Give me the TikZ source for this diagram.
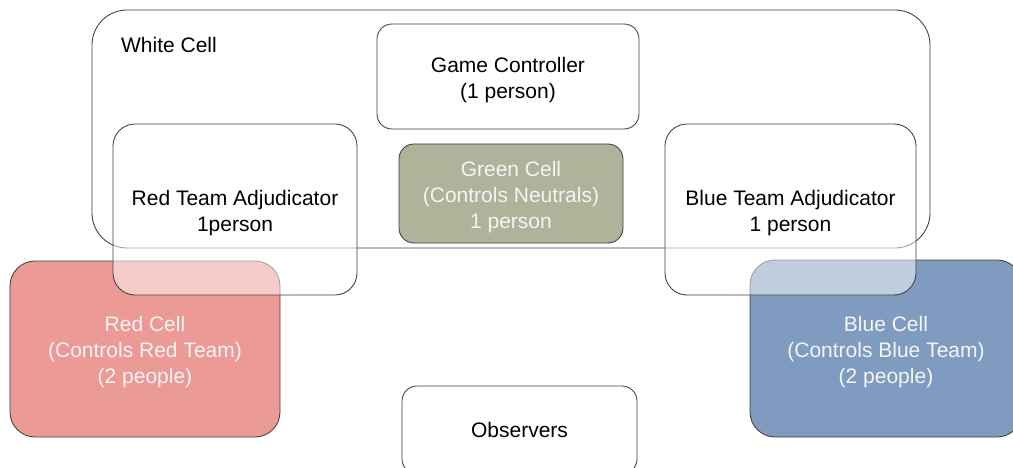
\documentclass[tikz,border=0pt]{standalone}
\usepackage{fontspec}
\setmainfont{Liberation Sans}
\definecolor{bordergray}{HTML}{404040}
\definecolor{redfill}{HTML}{EC9A96}
\definecolor{bluefill}{HTML}{7F9BC0}
\definecolor{greenfill}{HTML}{AEB49A}
\definecolor{paletext}{HTML}{F4F4F4}
\begin{document}
\begin{tikzpicture}[x=1pt,y=-1pt,
  box/.style={draw=bordergray, line width=0.85pt, inner sep=0pt},
  plain/.style={box, fill=white},
  adj/.style={box, fill=white, fill opacity=0.5, rounded corners=22pt},
  txt/.style={inner sep=0pt, align=center, yshift=-3.5pt, font=\fontsize{21}{26}\selectfont},
  pale/.style={txt, text=paletext},
  lbl/.style={inner sep=0pt, font=\fontsize{21}{26}\selectfont}]
\useasboundingbox (0,0) rectangle (1013,468);
\clip (0,0) rectangle (1013,468);
\fill[white] (0,0) rectangle (1013,468);
\node[plain, rounded corners=35pt, minimum width=838pt, minimum height=238pt] (white) at (511,129) {};
\node[lbl] (whitelbl) at (169,45) {White Cell};
\node[plain, rounded corners=15pt, minimum width=262pt, minimum height=105pt] (gc) at (508,76.5) {};
\node[txt] (gct) at (gc.center) {Game Controller\\(1 person)};
\node[box, fill=greenfill, rounded corners=15pt, minimum width=224pt, minimum height=99pt] (green) at (511,193.5) {};
\node[pale] (greent) at (green.center) {Green Cell\\(Controls Neutrals)\\1 person};
\node[box, fill=redfill, rounded corners=25pt, minimum width=270pt, minimum height=176pt] (red) at (145,349) {};
\node[pale] (redt) at (red.center) {Red Cell\\(Controls Red Team)\\(2 people)};
\node[box, fill=bluefill, rounded corners=25pt, minimum width=272pt, minimum height=177pt] (blue) at (886,348.5) {};
\node[pale] (bluet) at (blue.center) {Blue Cell\\(Controls Blue Team)\\(2 people)};
\node[plain, rounded corners=15pt, minimum width=235pt, minimum height=88pt] (obs) at (519.5,430) {};
\node[lbl] (obst) at (obs.center) {Observers};
\node[adj, minimum width=244pt, minimum height=171pt] (redadj) at (235,209.5) {};
\node[txt] (redadjt) at (redadj.center) {Red Team Adjudicator\\1person};
\node[adj, minimum width=251pt, minimum height=171pt] (blueadj) at (790.5,209.5) {};
\node[txt] (blueadjt) at (blueadj.center) {Blue Team Adjudicator\\1 person};
\end{tikzpicture}
\end{document}
